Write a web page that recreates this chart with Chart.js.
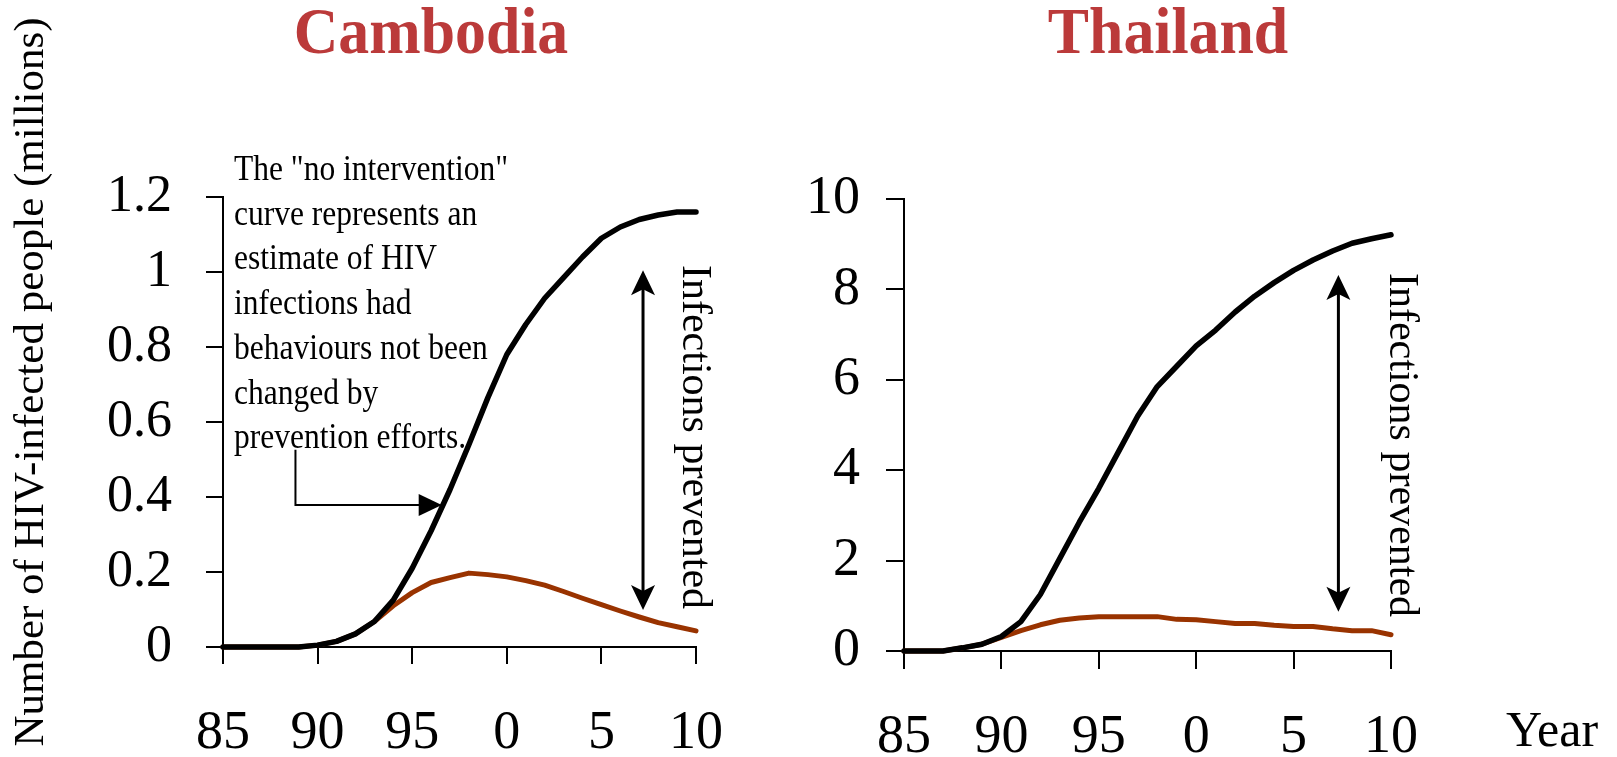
<!DOCTYPE html>
<html>
<head>
<meta charset="utf-8">
<script src="https://cdn.jsdelivr.net/npm/chart.js@4.4.1/dist/chart.umd.min.js"></script>
<style>
  html, body { margin: 0; padding: 0; background: #fff; }
  #wrap { position: relative; width: 1617px; height: 757px; }
  canvas { position: absolute; left: 0; top: 0; }
</style>
</head>
<body>
<div id="wrap">
  <canvas id="cambodia" width="1617" height="757"></canvas>
  <canvas id="thailand" width="1617" height="757"></canvas>
</div>
<script>
// ---- data (millions of HIV-infected people) ----
const years = [1985, 1986, 1987, 1988, 1989, 1990, 1991, 1992, 1993, 1994, 1995, 1996, 1997,
               1998, 1999, 2000, 2001, 2002, 2003, 2004, 2005, 2006, 2007, 2008, 2009, 2010];

const cambodiaNoIntervention = [0, 0, 0, 0, 0, 0.005, 0.015, 0.035, 0.068, 0.125, 0.21, 0.31, 0.42,
                                0.54, 0.665, 0.78, 0.86, 0.93, 0.985, 1.04, 1.09, 1.12, 1.14, 1.152, 1.16, 1.16];
const cambodiaActual = [0, 0, 0, 0, 0, 0.005, 0.015, 0.035, 0.068, 0.11, 0.145, 0.172, 0.185,
                        0.197, 0.193, 0.187, 0.177, 0.165, 0.148, 0.13, 0.113, 0.096, 0.08, 0.065, 0.054, 0.043];

const thailandNoIntervention = [0, 0, 0, 0.07, 0.15, 0.32, 0.65, 1.25, 2.05, 2.85, 3.6, 4.4, 5.2,
                                5.85, 6.3, 6.75, 7.1, 7.5, 7.85, 8.15, 8.42, 8.65, 8.85, 9.02, 9.12, 9.21];
const thailandActual = [0, 0, 0, 0.07, 0.15, 0.3, 0.45, 0.58, 0.68, 0.73, 0.76, 0.76, 0.76,
                        0.76, 0.7, 0.69, 0.65, 0.61, 0.61, 0.57, 0.54, 0.54, 0.49, 0.45, 0.45, 0.36];

const xTicks = [1985, 1990, 1995, 2000, 2005, 2010];
const xTickLabels = ["85", "90", "95", "0", "5", "10"];
const cambodiaYTicks = [0, 0.2, 0.4, 0.6, 0.8, 1, 1.2];
const cambodiaYLabels = ["0", "0.2", "0.4", "0.6", "0.8", "1", "1.2"];
const thailandYTicks = [0, 2, 4, 6, 8, 10];
const thailandYLabels = ["0", "2", "4", "6", "8", "10"];

const noteLines = [
  'The "no intervention"',
  "curve represents an",
  "estimate of HIV",
  "infections had",
  "behaviours not been",
  "changed by",
  "prevention efforts."
];

const FONT = '"Liberation Serif", "Times New Roman", Times, serif';
const W = 1617, H = 757;

function arrowHead(ctx, tx, ty, dx, dy, len, half, notch) {
  // dx,dy: unit vector pointing toward the tip
  const px = -dy, py = dx;
  ctx.beginPath();
  ctx.moveTo(tx, ty);
  ctx.lineTo(tx - dx * len + px * half, ty - dy * len + py * half);
  ctx.lineTo(tx - dx * (len - notch), ty - dy * (len - notch));
  ctx.lineTo(tx - dx * len - px * half, ty - dy * len - py * half);
  ctx.closePath();
  ctx.fill();
}

function doubleArrow(ctx, x, yTop, yBot) {
  ctx.save();
  ctx.strokeStyle = "#000";
  ctx.fillStyle = "#000";
  ctx.lineWidth = 3;
  ctx.beginPath();
  ctx.moveTo(x, yTop + 15);
  ctx.lineTo(x, yBot - 15);
  ctx.stroke();
  arrowHead(ctx, x, yTop, 0, -1, 25, 12, 6);
  arrowHead(ctx, x, yBot, 0, 1, 25, 12, 6);
  ctx.restore();
}

function verticalText(ctx, text, xBase, yStart, size) {
  ctx.save();
  ctx.translate(xBase, yStart);
  ctx.rotate(Math.PI / 2);
  ctx.font = size + "px " + FONT;
  ctx.fillStyle = "#000";
  ctx.textAlign = "left";
  ctx.textBaseline = "alphabetic";
  ctx.fillText(text, 0, 0);
  ctx.restore();
}

function drawTitle(ctx, text, cx) {
  ctx.save();
  ctx.translate(cx, 53);
  ctx.scale(0.95, 1);
  ctx.font = "bold 65px " + FONT;
  ctx.fillStyle = "#bb3a3a";
  ctx.textAlign = "center";
  ctx.textBaseline = "alphabetic";
  ctx.fillText(text, 0, 0);
  ctx.restore();
}

const cambodiaDecor = {
  id: "cambodiaDecor",
  afterDraw(chart) {
    const ctx = chart.ctx;
    const xs = chart.scales.x, ys = chart.scales.y;
    drawTitle(ctx, "Cambodia", 431);

    // y-axis title
    ctx.save();
    ctx.translate(43, 382);
    ctx.rotate(-Math.PI / 2);
    ctx.font = "43px " + FONT;
    ctx.fillStyle = "#000";
    ctx.textAlign = "center";
    ctx.fillText("Number of HIV-infected people (millions)", 0, 0);
    ctx.restore();

    // explanatory note (narrow, tall type like the original)
    ctx.save();
    ctx.font = "35px " + FONT;
    ctx.fillStyle = "#000";
    ctx.textAlign = "left";
    noteLines.forEach((t, i) => {
      ctx.save();
      ctx.translate(234, 180 + i * 44.7);
      ctx.scale(0.9, 1);
      ctx.fillText(t, 0, 0);
      ctx.restore();
    });
    ctx.restore();

    // pointer from the note to the no-intervention curve
    const px = xs.getPixelForValue(1988.83);
    const py0 = ys.getPixelForValue(0.526), py1 = ys.getPixelForValue(0.379);
    const tipX = xs.getPixelForValue(1996.56);
    ctx.save();
    ctx.strokeStyle = "#000";
    ctx.fillStyle = "#000";
    ctx.lineWidth = 2;
    ctx.beginPath();
    ctx.moveTo(px, py0);
    ctx.lineTo(px, py1);
    ctx.lineTo(tipX - 18, py1);
    ctx.stroke();
    arrowHead(ctx, tipX, py1, 1, 0, 23, 11, 0);
    ctx.restore();

    // infections prevented
    const ax = xs.getPixelForValue(2007.2);
    doubleArrow(ctx, ax, ys.getPixelForValue(1.005), ys.getPixelForValue(0.099));
    verticalText(ctx, "Infections prevented", ax + 40, 265, 42);
  }
};

const thailandDecor = {
  id: "thailandDecor",
  afterDraw(chart) {
    const ctx = chart.ctx;
    const xs = chart.scales.x, ys = chart.scales.y;
    drawTitle(ctx, "Thailand", 1168);

    const ax = xs.getPixelForValue(2007.3);
    doubleArrow(ctx, ax, ys.getPixelForValue(8.32), ys.getPixelForValue(0.87));
    verticalText(ctx, "Infections prevented", ax + 52, 273, 42);

    ctx.save();
    ctx.font = "50px " + FONT;
    ctx.fillStyle = "#000";
    ctx.textAlign = "left";
    ctx.fillText("Year", 1506, 746);
    ctx.restore();
  }
};

function makePanel(id, noInt, actual, yTicks, yLabels, box, decor) {
  const tickFont = size => ({ family: FONT, size: size, lineHeight: 1.2 });
  return new Chart(document.getElementById(id), {
    type: "line",
    data: {
      datasets: [
        {
          data: years.map((y, i) => ({ x: y, y: noInt[i] })),
          borderColor: "#000",
          borderWidth: 5.5,
          clip: false
        },
        {
          data: years.map((y, i) => ({ x: y, y: actual[i] })),
          borderColor: "#993300",
          borderWidth: 5,
          clip: false
        }
      ]
    },
    options: {
      responsive: false,
      animation: false,
      devicePixelRatio: 1,
      layout: { padding: { left: box.left - box.yWidth, top: box.top, right: W - box.right, bottom: 0 } },
      plugins: { legend: { display: false }, tooltip: { enabled: false } },
      elements: {
        point: { radius: 0 },
        line: { tension: 0, borderCapStyle: "round", borderJoinStyle: "round" }
      },
      scales: {
        x: {
          type: "linear",
          min: 1985,
          max: 2010,
          afterBuildTicks: s => { s.ticks = xTicks.map(v => ({ value: v })); },
          afterFit: s => { s.height = H - box.bottom; },
          ticks: {
            callback: (v, i) => xTickLabels[i],
            font: tickFont(54),
            color: "#000",
            padding: box.xPad,
            autoSkip: false,
            maxRotation: 0
          },
          grid: { drawOnChartArea: false, drawTicks: true, tickLength: box.tick, color: "#000", lineWidth: 2 },
          border: { display: true, color: "#000", width: 2 }
        },
        y: {
          min: yTicks[0],
          max: yTicks[yTicks.length - 1],
          afterBuildTicks: s => { s.ticks = yTicks.map(v => ({ value: v })); },
          afterFit: s => { s.width = box.yWidth; },
          ticks: {
            callback: (v, i) => yLabels[i],
            font: tickFont(box.yFont),
            color: "#000",
            padding: box.yPad,
            autoSkip: false
          },
          grid: { drawOnChartArea: false, drawTicks: true, tickLength: box.tick, color: "#000", lineWidth: 2 },
          border: { display: true, color: "#000", width: 2 }
        }
      }
    },
    plugins: [decor]
  });
}

makePanel("cambodia", cambodiaNoIntervention, cambodiaActual, cambodiaYTicks, cambodiaYLabels,
  { left: 223, right: 696, top: 197, bottom: 647, yWidth: 223, tick: 17, yPad: 34, xPad: 37, yFont: 52 },
  cambodiaDecor);

makePanel("thailand", thailandNoIntervention, thailandActual, thailandYTicks, thailandYLabels,
  { left: 904, right: 1391, top: 199, bottom: 651, yWidth: 124, tick: 18, yPad: 26, xPad: 36, yFont: 54 },
  thailandDecor);
</script>
</body>
</html>
